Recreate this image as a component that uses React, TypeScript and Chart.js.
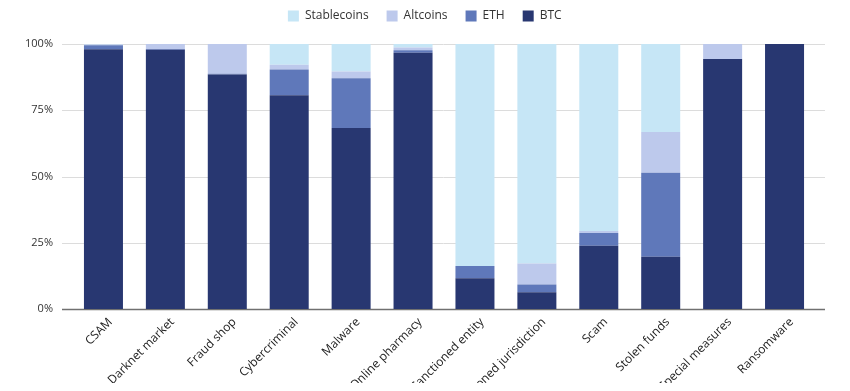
import React, { useEffect, useRef } from "react";
import { Chart, registerables } from "chart.js";

Chart.register(...registerables);

const categories = [
  "CSAM",
  "Darknet market",
  "Fraud shop",
  "Cybercriminal",
  "Malware",
  "Online pharmacy",
  "Sanctioned entity",
  "Sanctioned jurisdiction",
  "Scam",
  "Stolen funds",
  "Special measures",
  "Ransomware",
];

const btc = [98.0, 97.8, 88.5, 80.7, 68.3, 96.7, 11.6, 6.3, 23.9, 19.7, 94.3, 100];
const eth = [1.5, 0.3, 0.3, 9.7, 18.8, 0.9, 4.6, 2.9, 4.8, 31.7, 0, 0];
const altcoins = [0.3, 1.9, 11.2, 1.8, 2.5, 1.1, 0, 8.0, 0.7, 15.4, 5.7, 0];
const stablecoins = [0.2, 0, 0, 7.8, 10.4, 1.3, 83.8, 82.8, 70.6, 33.2, 0, 0];

const yTicks = [0, 25, 50, 75, 100];

const FONT = "'Open Sans', sans-serif";

const gridPlugin = {
  id: "wideGrid",
  beforeDatasetsDraw(chart: any) {
    const { ctx, chartArea, scales } = chart;
    const y = scales.y;
    ctx.save();
    yTicks.forEach((t) => {
      const py = Math.round(y.getPixelForValue(t)) + 0.5;
      ctx.beginPath();
      ctx.strokeStyle = t === 0 ? "#707070" : "#dcdcdc";
      ctx.lineWidth = t === 0 ? 1.5 : 1;
      ctx.moveTo(chartArea.left - 10.5, py);
      ctx.lineTo(chartArea.right + 9.5, py);
      ctx.stroke();
    });
    ctx.restore();
  },
  beforeLayout(chart: any) {
    const lg = chart.legend;
    if (lg && !lg._patched) {
      const orig = lg.fit;
      lg.fit = function () {
        orig.call(this);
        this.height = 36;
      };
      lg._patched = true;
    }
  },
  afterLayout(chart: any) {
    const lg = chart.legend;
    if (lg) {
      lg.top = -16;
      lg.left += 13;
      lg.right += 13;
    }
  },
};

export default function App() {
  const ref = useRef<HTMLCanvasElement>(null);
  useEffect(() => {
    if (!ref.current) return;
    const chart = new Chart(ref.current, {
      type: "bar",
      data: {
        labels: categories,
        datasets: [
          { label: "BTC", data: btc, backgroundColor: "#283771" },
          { label: "ETH", data: eth, backgroundColor: "#5f78ba" },
          { label: "Altcoins", data: altcoins, backgroundColor: "#bdc9ec" },
          { label: "Stablecoins", data: stablecoins, backgroundColor: "#c6e6f6" },
        ].map((d) => ({ ...d, barPercentage: 0.63, categoryPercentage: 1 })),
      },
      options: {
        animation: false,
        responsive: true,
        maintainAspectRatio: false,
        layout: { padding: { left: 0, right: 26.5, top: 0, bottom: 0 } },
        plugins: {
          tooltip: { enabled: false },
          legend: {
            position: "top",
            reverse: true,
            labels: {
              boxWidth: 11,
              boxHeight: 11,
              padding: 18,
              color: "#333333",
              font: { family: FONT, size: 12 },
            },
          },
        },
        scales: {
          x: {
            stacked: true,
            grid: { display: false, drawTicks: false },
            border: { display: false },
            afterFit(scale: any) {
              scale.height = 74;
            },
            ticks: {
              maxRotation: 45,
              minRotation: 45,
              autoSkip: false,
              padding: 6,
              labelOffset: 7,
              color: "#222222",
              font: { family: FONT, size: 12 },
            },
          },
          y: {
            stacked: true,
            min: 0,
            max: 100,
            grid: { display: false, drawTicks: false },
            border: { display: false },
            afterFit(scale: any) {
              scale.width = 64.5;
            },
            ticks: {
              stepSize: 25,
              padding: 19.5,
              color: "#333333",
              font: { family: FONT, size: 11 },
              callback: (v: any) => v + "%",
            },
          },
        },
      },
      plugins: [gridPlugin],
    });
    return () => chart.destroy();
  }, []);
  return (
    <div style={{ width: 834, height: 375, position: "relative" }}>
      <canvas ref={ref} />
    </div>
  );
}
